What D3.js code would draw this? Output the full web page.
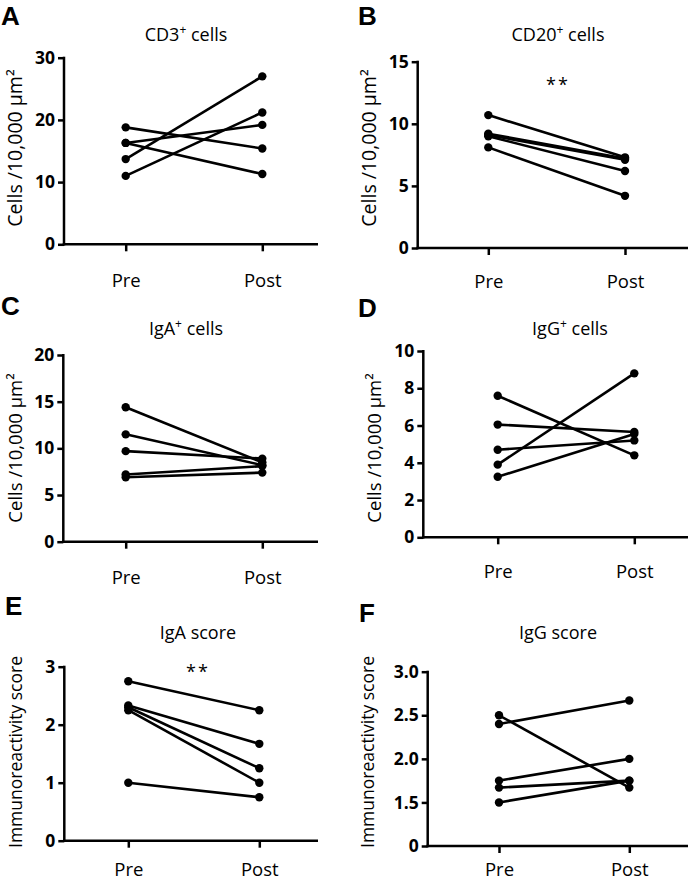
<!DOCTYPE html>
<html><head><meta charset="utf-8">
<script src="https://cdn.jsdelivr.net/npm/d3@7"></script>
<style>
html,body{margin:0;padding:0;background:#fff;}
svg{display:block;font-family:"Open Sans",sans-serif;}
</style></head>
<body>
<svg id="chart" width="690" height="880"></svg>
<script>
// ---- data ----
const categories = ["Pre", "Post"];

const cd3Pre   = [18.8, 16.3, 16.3, 13.7, 11.0];
const cd3Post  = [15.4, 19.2, 11.3, 27.0, 21.2];
const cd3Ticks = [0, 10, 20, 30];

const cd20Pre   = [10.7, 9.2, 9.1, 9.0, 8.1];
const cd20Post  = [7.3, 7.2, 7.1, 6.2, 4.2];
const cd20Ticks = [0, 5, 10, 15];

const igaPre   = [14.4, 11.5, 9.7, 7.2, 6.9];
const igaPost  = [8.5, 8.2, 8.9, 8.1, 7.4];
const igaTicks = [0, 5, 10, 15, 20];

const iggPre   = [7.6, 6.05, 4.7, 3.9, 3.25];
const iggPost  = [4.4, 5.65, 5.2, 8.8, 5.55];
const iggTicks = [0, 2, 4, 6, 8, 10];

const igaScorePre   = [2.75, 2.33, 2.3, 2.25, 1.0];
const igaScorePost  = [2.25, 1.67, 1.25, 1.0, 0.75];
const igaScoreTicks = [0, 1, 2, 3];

const iggScorePre   = [2.5, 2.4, 1.75, 1.67, 1.5];
const iggScorePost  = [1.67, 2.67, 2.0, 1.75, 1.75];
const iggScoreTicks = [0, 1.5, 2.0, 2.5, 3.0];

const panelLetters = ["A", "B", "C", "D", "E", "F"];
const panelTitles = [["CD3", "+", " cells"], ["CD20", "+", " cells"], ["IgA", "+", " cells"], ["IgG", "+", " cells"], ["IgA score", "", ""], ["IgG score", "", ""]];
const yLabels = ["Cells /10,000 µm²", "Cells /10,000 µm²", "Cells /10,000 µm²", "Cells /10,000 µm²", "Immunoreactivity score", "Immunoreactivity score"];
const sigMarks = ["", "**", "", "", "**", ""];

// ---- layout ----
const panels = [
  {pre: cd3Pre, post: cd3Post, ticks: cd3Ticks, ax: 64, xEnd: 318, yTop: 57.7, yBot: 244.3, px: [125.7, 262.3], fmt: d3.format("d"), xpad: 23, lx: 1, ly: 25, tx: 186, ty: 41, ylx: 22, yly: 148, ylfs: 19.5},
  {pre: cd20Pre, post: cd20Post, ticks: cd20Ticks, ax: 417.7, xEnd: 688, yTop: 61.7, yBot: 248, px: [488.3, 625], fmt: d3.format("d"), xpad: 20, lx: 358, ly: 25, tx: 558, ty: 41, ylx: 376, yly: 148, ylfs: 19.5, sx: 558, sy: 91},
  {pre: igaPre, post: igaPost, ticks: igaTicks, ax: 63.3, xEnd: 318, yTop: 355, yBot: 541.7, px: [125.7, 262.3], fmt: d3.format("d"), xpad: 22, lx: 1, ly: 315, tx: 186, ty: 335, ylx: 22, yly: 448, ylfs: 18.5},
  {pre: iggPre, post: iggPost, ticks: iggTicks, ax: 423.3, xEnd: 688, yTop: 351, yBot: 537.3, px: [497.7, 634.3], fmt: d3.format("d"), xpad: 21, lx: 358, ly: 317, tx: 570, ty: 335, ylx: 381, yly: 448, ylfs: 18.5},
  {pre: igaScorePre, post: igaScorePost, ticks: igaScoreTicks, ax: 64.3, xEnd: 318, yTop: 666.7, yBot: 840.7, px: [128.3, 259.3], fmt: d3.format("d"), xpad: 15, lx: 5, ly: 615, tx: 198, ty: 639, ylx: 22, yly: 752, ylfs: 17.5, sx: 198, sy: 678},
  {pre: iggScorePre, post: iggScorePost, ticks: iggScoreTicks, ax: 427.7, xEnd: 688, yTop: 671.7, yBot: 846, px: [499, 629.3], fmt: d => d === 0 ? "0" : d3.format(".1f")(d), xpad: 10, lx: 359, ly: 622, tx: 558, ty: 639, ylx: 374, yly: 752, ylfs: 17.5, broken: true}
];

const svg = d3.select("#chart");

panels.forEach((p, i) => {
  const g = svg.append("g");
  const maxV = p.ticks[p.ticks.length - 1];
  const y = p.broken
    ? d3.scaleLinear().domain([0, p.ticks[1], maxV]).range([p.yBot, p.yBot - (p.yBot - p.yTop) / 4, p.yTop])
    : d3.scaleLinear().domain([0, maxV]).range([p.yBot, p.yTop]);
  const x = d3.scalePoint().domain(categories).range(p.px);

  // y axis
  const yAxis = g.append("g").attr("transform", `translate(${p.ax},0)`)
    .call(d3.axisLeft(y).tickValues(p.ticks).tickFormat(p.fmt).tickSize(6).tickPadding(3).tickSizeOuter(0));
  yAxis.select(".domain").remove();
  yAxis.selectAll(".tick line").attr("stroke", "#000").attr("stroke-width", 2.5);
  yAxis.selectAll(".tick text").attr("font-size", 17.5).attr("font-weight", "bold").attr("fill", "#000")
    .attr("font-family", "'Open Sans', sans-serif");

  // x axis
  const xAxis = g.append("g").attr("transform", `translate(0,${p.yBot})`)
    .call(d3.axisBottom(x).tickSize(7).tickPadding(p.xpad).tickSizeOuter(0));
  xAxis.select(".domain").remove();
  xAxis.selectAll(".tick line").attr("stroke", "#000").attr("stroke-width", 2.5);
  xAxis.selectAll(".tick text").attr("font-size", 18.5).attr("fill", "#000")
    .attr("font-family", "'Open Sans', sans-serif");

  // axis lines
  g.append("line").attr("x1", p.ax).attr("x2", p.ax).attr("y1", y.range()[y.range().length - 1] - 1).attr("y2", p.yBot + 1.25)
    .attr("stroke", "#000").attr("stroke-width", 2.5);
  g.append("line").attr("x1", p.ax - 1.25).attr("x2", p.xEnd).attr("y1", p.yBot).attr("y2", p.yBot)
    .attr("stroke", "#000").attr("stroke-width", 2.5);

  // paired lines
  p.pre.forEach((v, k) => {
    g.append("line")
      .attr("x1", x("Pre")).attr("y1", y(v))
      .attr("x2", x("Post")).attr("y2", y(p.post[k]))
      .attr("stroke", "#000").attr("stroke-width", 2.6);
  });
  p.pre.forEach(v => g.append("circle").attr("cx", x("Pre")).attr("cy", y(v)).attr("r", 4.2).attr("fill", "#000"));
  p.post.forEach(v => g.append("circle").attr("cx", x("Post")).attr("cy", y(v)).attr("r", 4.2).attr("fill", "#000"));

  // title
  const t = g.append("text").attr("x", p.tx).attr("y", p.ty).attr("text-anchor", "middle")
    .attr("font-size", 18).attr("fill", "#000");
  t.append("tspan").text(panelTitles[i][0]);
  if (panelTitles[i][1]) {
    t.append("tspan").attr("dy", -7).attr("font-size", 12).text(panelTitles[i][1]);
    t.append("tspan").attr("dy", 7).text(panelTitles[i][2]);
  }

  // panel letter
  g.append("text").attr("x", p.lx).attr("y", p.ly).attr("font-size", 26).attr("font-weight", "bold")
    .attr("font-family", "'Liberation Sans', Arial, sans-serif").attr("fill", "#000").text(panelLetters[i]);

  // y label
  g.append("text").attr("transform", `translate(${p.ylx},${p.yly}) rotate(-90)`)
    .attr("text-anchor", "middle").attr("font-size", p.ylfs).attr("fill", "#000").text(yLabels[i]);

  // significance
  if (sigMarks[i]) {
    g.append("text").attr("x", p.sx).attr("y", p.sy).attr("text-anchor", "middle")
      .attr("font-size", 18).attr("letter-spacing", 2).attr("fill", "#000").text(sigMarks[i]);
  }
});
</script>
</body></html>
